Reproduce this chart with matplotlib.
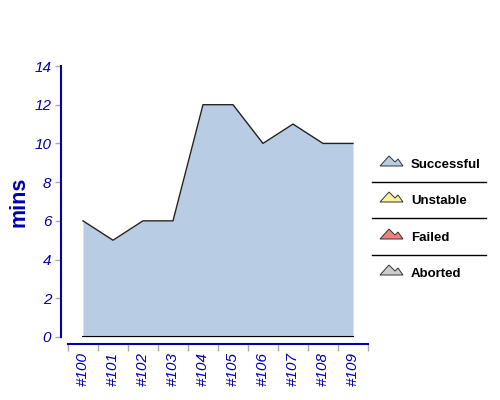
import matplotlib
matplotlib.use("Agg")
import matplotlib.pyplot as plt
from matplotlib.patches import Polygon

builds = ["#100", "#101", "#102", "#103", "#104", "#105", "#106", "#107", "#108", "#109"]
successful = [6, 5, 6, 6, 12, 12, 10, 11, 10, 10]
y_ticks = [0, 2, 4, 6, 8, 10, 12, 14]
legend_labels = ["Successful", "Unstable", "Failed", "Aborted"]
legend_colors = ["#b8cce4", "#fff199", "#f08080", "#cccccc"]

W, H = 500, 400
plt.rcParams['font.family'] = ['Liberation Sans', 'DejaVu Sans']
blue = "#0000b0"
tickgray = "#aaaaaa"
fig = plt.figure(figsize=(5, 4), dpi=100)

def rect(x0, y0, x1, y1):
    return [x0 / W, 1 - y1 / H, (x1 - x0) / W, (y1 - y0) / H]

n = len(builds)
xs = list(range(n))
ax = fig.add_axes(rect(61, 66, 368, 337))
ax.fill_between(xs, 0, successful, color=legend_colors[0], lw=0)
ax.plot(xs, successful, color="#222222", lw=1)
ax.plot([xs[0], xs[-1]], [0, 0], color="black", lw=1.5)
ax.set_xlim(-0.5 - 7 / 30, n - 0.5)
ax.set_ylim(0, 14)
for s in ["top", "right", "bottom"]:
    ax.spines[s].set_visible(False)
ax.spines["left"].set_color(blue)
ax.spines["left"].set_linewidth(1.5)
ax.set_xticks([])
ax.set_yticks(y_ticks)
ax.set_yticklabels([str(v) for v in y_ticks], fontstyle="italic", fontsize=11)
ax.tick_params(axis="y", colors=tickgray, length=4, width=1, pad=3)
for lbl in ax.get_yticklabels():
    lbl.set_color(blue)
ax.patch.set_alpha(0)
fig.text(19 / W, 1 - 202 / H, "mins", color=blue, fontsize=15.5, fontweight="bold",
         rotation=90, ha="center", va="center")

# separate x axis
ax2 = fig.add_axes(rect(68, 343, 368, 344))
ax2.set_xlim(-0.5, n - 0.5)
ax2.set_ylim(0, 1)
for s in ["top", "right", "left"]:
    ax2.spines[s].set_visible(False)
ax2.spines["bottom"].set_color(blue)
ax2.spines["bottom"].set_linewidth(1.5)
ax2.set_yticks([])
ax2.set_xticks([i - 0.5 for i in range(n + 1)])
ax2.set_xticklabels([])
ax2.tick_params(axis="x", which="major", colors=tickgray, length=5, width=1)
ax2.set_xticks(xs, minor=True)
ax2.set_xticklabels(builds, minor=True, rotation=90, color=blue, fontstyle="italic", fontsize=11)
ax2.tick_params(axis="x", which="minor", length=0, pad=6)
ax2.patch.set_alpha(0)

# legend
lax = fig.add_axes([0, 0, 1, 1])
lax.set_xlim(0, W)
lax.set_ylim(H, 0)
lax.axis("off")
lax.patch.set_alpha(0)
ys = [165, 201, 238, 274]
shape = [(380, 167), (389, 157), (395, 163), (398, 160), (403, 167)]
for i, (lab, col) in enumerate(zip(legend_labels, legend_colors)):
    yc = ys[i]
    pts = [(x, y - 166 + yc) for x, y in shape]
    lax.add_patch(Polygon(pts, closed=True, facecolor=col, edgecolor="#333333", lw=0.7))
    lax.text(411, yc, lab, fontsize=9.5, fontweight="bold", color="black", va="center", ha="left")
    if i < len(legend_labels) - 1:
        lax.plot([372, 486], [yc + 17, yc + 17], color="black", lw=1)

fig.savefig("out.png", dpi=100)
